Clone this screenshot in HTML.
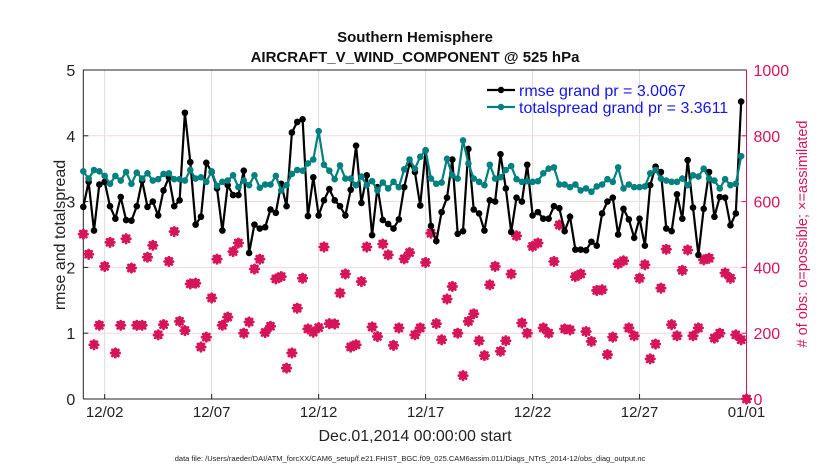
<!DOCTYPE html>
<html><head><meta charset="utf-8"><style>
body{margin:0;background:#fff;}
svg text{font-family:"Liberation Sans",Arial,sans-serif;}
</style></head><body>
<svg id="chart" width="830" height="470" viewBox="0 0 830 470" xmlns="http://www.w3.org/2000/svg">
<rect width="830" height="470" fill="#fff"/>
<g id="grid"></g><g id="axes"></g><g id="series"></g><g id="legend"></g>
</svg>
<script>
const xTickLabels=["12/02","12/07","12/12","12/17","12/22","12/27","01/01"];
const xTickDays=[1,6,11,16,21,26,31];
const leftTicks=[0,1,2,3,4,5];
const rightTicks=[0,200,400,600,800,1000];
const rmse=[2.92,3.3,2.56,3.26,3.3,2.93,2.74,3.07,2.72,2.71,2.93,3.32,2.92,3.0,2.79,3.17,3.37,2.93,3.02,4.35,3.6,2.65,2.77,3.59,3.45,3.2,2.56,3.25,3.1,3.1,3.47,2.22,2.65,
2.59,2.61,2.88,2.83,3.27,2.93,4.05,4.21,4.25,2.78,3.37,2.79,3.02,3.19,3.02,2.93,2.79,3.18,3.85,2.98,3.40,2.49,3.22,2.72,2.66,2.59,2.73,3.22,3.58,3.45,2.94,3.78,
2.63,2.40,2.84,3.06,3.64,2.51,2.55,3.8,2.88,2.82,2.56,3.02,3.0,3.72,3.2,2.54,3.06,3.0,3.56,2.79,2.84,2.74,2.74,2.93,2.9,2.55,2.77,2.27,2.27,
2.26,2.39,2.33,2.82,3.0,3.06,2.5,2.89,2.73,2.45,2.74,2.33,3.25,3.53,3.45,2.59,2.55,3.11,2.74,3.63,2.91,2.19,2.89,3.45,2.77,3.07,3.06,2.64,2.82,4.52];
const spread=[3.46,3.35,3.48,3.46,3.39,3.27,3.39,3.32,3.45,3.27,3.44,3.35,3.43,3.32,3.34,3.42,3.43,3.34,3.34,3.32,3.48,3.35,3.37,3.3,3.46,3.24,3.3,3.32,3.4,3.22,3.32,3.25,3.4,
3.21,3.26,3.26,3.39,3.17,3.25,3.42,3.48,3.47,3.58,3.64,4.07,3.56,3.47,3.34,3.55,3.35,3.35,3.25,3.38,3.25,3.31,3.17,3.29,3.2,3.3,3.22,3.49,3.64,3.5,3.68,3.78,
3.35,3.27,3.29,3.65,3.4,3.35,3.93,3.58,3.35,3.3,3.25,3.56,3.35,3.37,3.48,3.54,3.34,3.3,3.31,3.3,3.31,3.43,3.5,3.52,3.26,3.26,3.22,3.26,3.17,
3.2,3.15,3.23,3.26,3.34,3.3,3.52,3.2,3.26,3.22,3.22,3.23,3.43,3.48,3.35,3.32,3.3,3.3,3.35,3.25,3.4,3.38,3.5,3.35,3.32,3.2,3.34,3.25,3.27,3.69];
const obsPossible=[501,440,165,224,403,476,140,224,487,398,224,224,431,467,195,226,418,509,236,208,350,352,158,188,307,425,224,249,448,474,200,234,395,
425,202,221,365,372,94,140,276,367,213,203,217,462,229,228,322,380,158,165,357,462,219,190,471,438,163,216,426,445,195,216,415,
504,229,180,304,342,200,71,236,259,177,132,347,403,145,177,380,496,231,200,464,474,216,200,418,529,213,210,372,380,
205,175,330,332,135,188,411,420,216,192,367,408,122,167,337,455,226,192,391,453,192,216,423,428,185,200,383,367,195,180,0];
const obsUsed=obsPossible.slice();

const X0=83.3,X1=746.5,Y0=399,Y1=70,D=31;
const xs=d=>X0+(X1-X0)*d/D;
const yl=v=>Y0-(Y0-Y1)*v/5;
const yr=v=>Y0-(Y0-Y1)*v/1000;
const NS="http://www.w3.org/2000/svg";
function mk(tag,attrs,parent){const e=document.createElementNS(NS,tag);for(const k in attrs)e.setAttribute(k,attrs[k]);parent.appendChild(e);return e;}
const grid=document.getElementById('grid'),axes=document.getElementById('axes'),ser=document.getElementById('series'),leg=document.getElementById('legend');
const RED="#d6145a";

xTickDays.forEach((d,i)=>{
  const g=mk('line',{x1:xs(d),x2:xs(d),y1:Y1,y2:Y0,stroke:"#dcdcdc","stroke-width":1},grid);
  
  
  const t=mk('text',{x:xs(d),y:417,"text-anchor":"middle","font-size":15,fill:"#222"},axes);
  t.textContent=xTickLabels[i];
  
  
  mk('line',{x1:xs(d),x2:xs(d),y1:Y0,y2:Y0-5,stroke:"#222"},axes);
});
rightTicks.forEach(v=>{
  if(v>0&&v<1000){const g=mk('line',{x1:X0,x2:X1,y1:yr(v),y2:yr(v),stroke:"#f0d8e2","stroke-width":1},grid);
  
  }
  const t=mk('text',{x:X1+7,y:yr(v)+6,"font-size":16,fill:RED},axes);
  t.textContent=v;
  
  
  mk('line',{x1:X1,x2:X1-5,y1:yr(v),y2:yr(v),stroke:RED},axes);
});
leftTicks.forEach(v=>{
  const t=mk('text',{x:X0-8,y:yl(v)+6,"text-anchor":"end","font-size":16,fill:"#222"},axes);
  t.textContent=v;
  
  
  mk('line',{x1:X0,x2:X0+5,y1:yl(v),y2:yl(v),stroke:"#222"},axes);
});
mk('path',{d:`M${X0} ${Y0}V${Y1}H${X1}`,fill:"none",stroke:"#222","stroke-width":1},axes);
mk('line',{x1:X0,x2:X1,y1:Y0,y2:Y0,stroke:"#222"},axes);
mk('line',{x1:X1,x2:X1,y1:Y1,y2:Y0,stroke:RED},axes);

obsPossible.forEach((v,i)=>{
  const c=mk('circle',{cx:xs(i*0.25),cy:yr(v)-1.5,r:2.6,fill:"none",stroke:RED,"stroke-width":1.2},ser);
  
  
});
obsUsed.forEach((v,i)=>{
  const x=xs(i*0.25),y=yr(v),r=4.2;
  const p=mk('path',{d:`M${x-r} ${y}H${x+r}M${x} ${y-r}V${y+r}M${x-r*0.72} ${y-r*0.72}L${x+r*0.72} ${y+r*0.72}M${x-r*0.72} ${y+r*0.72}L${x+r*0.72} ${y-r*0.72}`,stroke:RED,"stroke-width":2.8,"stroke-linecap":"round"},ser);
  
  
});
function drawLine(arr,color,name){
  const d=arr.map((v,i)=>(i?'L':'M')+xs(i*0.25).toFixed(1)+' '+yl(v).toFixed(1)).join('');
  const l=mk('path',{d:d,fill:"none",stroke:color,"stroke-width":2.2},ser);
  
  
  arr.forEach((v,i)=>{
    const c=mk('circle',{cx:xs(i*0.25),cy:yl(v),r:3.3,fill:color},ser);
    
    
  });
}
drawLine(rmse,"#000","rmse");
drawLine(spread,"#00807f","totalspread");

[["#000","rmse grand pr = 3.0067",90],["#00807f","totalspread grand pr = 3.3611",107]].forEach(e=>{
  mk('line',{x1:487,x2:515,y1:e[2],y2:e[2],stroke:e[0],"stroke-width":2.2},leg);
  mk('circle',{cx:501,cy:e[2],r:3.2,fill:e[0]},leg);
  const t=mk('text',{x:519,y:e[2]+6,"font-size":16,fill:"#1515f0"},leg);
  t.textContent=e[1];
  
  
});

function txt(s,attrs,name){const t=mk('text',attrs,axes);t.textContent=s;}
txt("Southern Hemisphere",{x:415,y:42,"text-anchor":"middle","font-size":15,"font-weight":"bold",fill:"#111"},"chart-title");
txt("AIRCRAFT_V_WIND_COMPONENT @ 525 hPa",{x:415,y:62,"text-anchor":"middle","font-size":15,"font-weight":"bold",fill:"#111"},"chart-subtitle");
txt("Dec.01,2014 00:00:00 start",{x:415,y:441,"text-anchor":"middle","font-size":16,fill:"#222"},"x-axis-title");
txt("rmse and totalspread",{x:0,y:0,"text-anchor":"middle","font-size":16,fill:"#222",transform:"translate(65,235) rotate(-90)"},"left-y-axis-title");
txt("# of obs: o=possible; \u00d7=assimilated",{x:0,y:0,"text-anchor":"middle","font-size":14.5,fill:RED,transform:"translate(807,234) rotate(-90)"},"right-y-axis-title");
txt("data file: /Users/raeder/DAI/ATM_forcXX/CAM6_setup/f.e21.FHIST_BGC.f09_025.CAM6assim.011/Diags_NTrS_2014-12/obs_diag_output.nc",{x:410,y:461,"text-anchor":"middle","font-size":7.5,fill:"#222"},"data-file-note");
</script>
</body></html>
